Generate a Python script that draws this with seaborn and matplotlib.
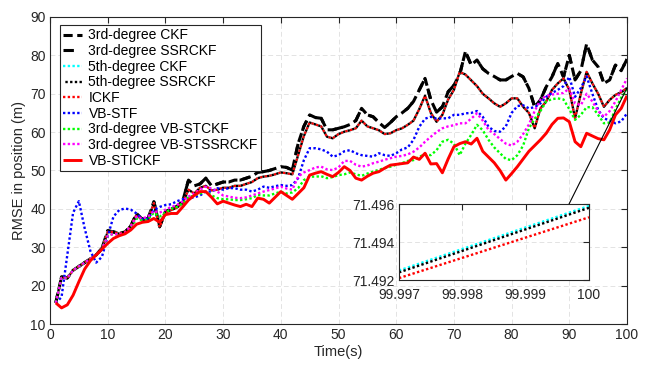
import numpy as np
import pandas as pd
import matplotlib
matplotlib.use("Agg")
import matplotlib.pyplot as plt
import seaborn as sns

# ---------------- data ----------------
time_s = np.arange(1, 101)

ckf3 = [15.5, 22.3, 22.0, 24.0, 25.0, 26.0, 27.0, 28.0, 29.7, 34.3,
        34.0, 33.6, 34.0, 35.5, 38.8, 37.3, 37.5, 41.9, 35.4, 39.3,
        40.0, 40.6, 42.0, 47.5, 46.0, 46.5, 48.0, 46.0, 46.5, 47.0,
        47.0, 47.5, 47.5, 48.0, 48.5, 49.5, 49.7, 50.0, 50.5, 51.0,
        50.8, 50.1, 57.0, 61.5, 64.5, 63.8, 63.6, 60.6, 60.6, 61.0,
        61.4, 62.0, 63.0, 66.2, 64.5, 64.0, 62.5, 61.2, 62.5, 64.0,
        65.0, 66.2, 68.0, 71.0, 74.0, 68.4, 65.2, 66.6, 70.5, 72.2,
        75.0, 81.0, 77.5, 78.8, 76.5, 75.3, 74.5, 73.6, 73.6, 74.5,
        75.3, 74.4, 71.4, 66.6, 68.4, 71.8, 74.4, 77.9, 74.4, 80.0,
        73.6, 76.0, 83.0, 78.8, 77.0, 72.7, 73.6, 77.5, 76.0, 79.0]

ssrckf3 = [15.5, 22.3, 22.0, 24.0, 25.0, 26.0, 27.0, 28.0, 29.7, 34.3,
           34.0, 33.6, 34.0, 35.5, 38.8, 37.3, 37.5, 41.9, 35.4, 39.3,
           40.0, 40.6, 42.0, 47.5, 46.0, 46.5, 48.0, 46.0, 46.5, 47.0,
           47.0, 47.5, 47.5, 48.0, 48.5, 49.5, 49.7, 50.0, 50.5, 51.0,
           50.8, 50.1, 57.0, 61.5, 64.5, 63.8, 63.6, 60.6, 60.6, 61.0,
           61.4, 62.0, 63.0, 66.2, 64.5, 64.0, 62.5, 61.2, 62.5, 64.0,
           65.0, 66.2, 68.0, 71.0, 74.0, 68.4, 65.2, 66.6, 70.5, 72.2,
           75.0, 81.0, 77.5, 78.8, 76.5, 75.3, 74.5, 73.6, 73.6, 74.5,
           75.3, 74.4, 71.4, 66.6, 68.4, 71.8, 74.4, 77.9, 74.4, 80.0,
           73.6, 76.0, 83.0, 78.8, 77.0, 72.7, 73.6, 77.5, 76.0, 79.0]

ckf5 = [15.5, 22.3, 22.0, 24.0, 25.0, 26.0, 27.0, 28.0, 29.5, 34.0,
        34.0, 33.5, 34.0, 35.5, 38.5, 37.0, 37.3, 41.5, 35.2, 39.0,
        39.7, 40.3, 41.5, 45.0, 44.0, 45.5, 46.0, 44.8, 45.0, 45.5,
        45.5, 46.0, 46.0, 46.5, 47.0, 48.0, 48.4, 48.6, 49.0, 49.5,
        49.3, 49.0, 54.0, 59.0, 62.5, 62.0, 61.5, 58.8, 58.4, 59.5,
        60.1, 60.5, 61.0, 63.0, 61.5, 61.0, 60.5, 59.5, 59.7, 60.5,
        61.0, 61.9, 63.0, 66.0, 69.5, 65.0, 62.7, 64.5, 68.5, 71.0,
        75.7, 75.0, 73.5, 72.0, 70.0, 68.8, 67.5, 66.6, 67.5, 68.8,
        68.8, 66.6, 65.0, 61.0, 66.2, 68.0, 71.0, 72.7, 74.0, 71.0,
        63.6, 70.0, 75.7, 72.7, 70.0, 66.6, 68.4, 69.7, 70.4, 71.5]

ssrckf5 = [15.5, 22.3, 22.0, 24.0, 25.0, 26.0, 27.0, 28.0, 29.5, 34.0,
           34.0, 33.5, 34.0, 35.5, 38.5, 37.0, 37.3, 41.5, 35.2, 39.0,
           39.7, 40.3, 41.5, 45.0, 44.0, 45.5, 46.0, 44.8, 45.0, 45.5,
           45.5, 46.0, 46.0, 46.5, 47.0, 48.0, 48.4, 48.6, 49.0, 49.5,
           49.3, 49.0, 54.0, 59.0, 62.5, 62.0, 61.5, 58.8, 58.4, 59.5,
           60.1, 60.5, 61.0, 63.0, 61.5, 61.0, 60.5, 59.5, 59.7, 60.5,
           61.0, 61.9, 63.0, 66.0, 69.5, 65.0, 62.7, 64.5, 68.5, 71.0,
           75.7, 75.0, 73.5, 72.0, 70.0, 68.8, 67.5, 66.6, 67.5, 68.8,
           68.8, 66.6, 65.0, 61.0, 66.2, 68.0, 71.0, 72.7, 74.0, 71.0,
           63.6, 70.0, 75.7, 72.7, 70.0, 66.6, 68.4, 69.7, 70.4, 71.5]

ickf = [15.5, 22.3, 22.0, 24.0, 25.0, 26.0, 27.0, 28.0, 29.5, 34.0,
        34.0, 33.5, 34.0, 35.5, 38.5, 37.0, 37.3, 41.5, 35.2, 39.0,
        39.7, 40.3, 41.5, 45.0, 44.0, 45.5, 46.0, 44.8, 45.0, 45.5,
        45.5, 46.0, 46.0, 46.5, 47.0, 48.0, 48.4, 48.6, 49.0, 49.5,
        49.3, 49.0, 54.0, 59.0, 62.5, 62.0, 61.5, 58.8, 58.4, 59.5,
        60.1, 60.5, 61.0, 63.0, 61.5, 61.0, 60.5, 59.5, 59.7, 60.5,
        61.0, 61.9, 63.0, 66.0, 69.5, 65.0, 62.7, 64.5, 68.5, 71.0,
        75.7, 75.0, 73.5, 72.0, 70.0, 68.8, 67.5, 66.6, 67.5, 68.8,
        68.8, 66.6, 65.0, 61.0, 66.2, 68.0, 71.0, 72.7, 74.0, 71.0,
        63.6, 70.0, 75.7, 72.7, 70.0, 66.6, 68.4, 69.7, 70.4, 71.5]

vbstf = [15.5, 17.0, 28.0, 39.0, 42.0, 35.0, 29.0, 26.0, 27.5, 32.8,
         38.0, 39.7, 40.1, 39.8, 38.8, 37.3, 37.5, 39.7, 40.5, 41.0,
         41.2, 42.0, 42.5, 42.8, 43.0, 43.5, 44.5, 44.5, 45.4, 45.0,
         45.4, 45.4, 45.0, 45.0, 44.5, 45.0, 45.8, 45.5, 45.9, 46.2,
         46.0, 46.2, 48.0, 52.7, 55.8, 55.8, 55.5, 54.9, 53.6, 54.0,
         55.0, 55.3, 54.5, 54.0, 53.8, 53.6, 54.5, 54.0, 53.8, 54.5,
         55.5, 56.0, 58.0, 61.4, 63.5, 64.0, 63.5, 63.6, 63.6, 64.5,
         64.5, 64.9, 65.0, 65.5, 64.0, 61.4, 60.3, 60.1, 61.5, 65.0,
         66.8, 67.0, 66.2, 66.5, 67.5, 69.2, 70.2, 71.0, 72.0, 74.4,
         69.2, 71.5, 74.5, 70.0, 65.8, 63.6, 63.0, 62.3, 62.8, 64.9]

vbstckf3 = [15.5, 22.0, 22.0, 24.0, 25.0, 26.0, 27.0, 28.0, 29.5, 33.0,
            33.5, 33.3, 33.5, 35.0, 37.5, 37.0, 37.3, 39.0, 38.0, 39.0,
            40.0, 40.5, 41.5, 43.0, 43.5, 44.0, 44.5, 43.5, 42.8, 42.5,
            42.5, 42.3, 42.3, 42.5, 42.8, 43.6, 43.5, 43.5, 44.0, 44.5,
            44.0, 44.3, 45.4, 47.5, 48.4, 48.4, 48.5, 48.0, 48.3, 48.8,
            49.0, 49.5, 49.0, 48.6, 49.2, 49.7, 50.2, 50.6, 51.0, 51.5,
            51.9, 52.5, 52.7, 53.6, 54.2, 54.0, 55.3, 57.5, 58.0, 57.0,
            54.0, 57.0, 59.3, 61.9, 60.5, 58.0, 56.0, 54.5, 53.0, 52.7,
            54.0, 56.5, 61.0, 63.5, 65.5, 68.0, 68.6, 68.8, 68.5, 66.0,
            63.2, 64.5, 66.5, 66.5, 64.5, 62.3, 62.5, 66.0, 69.0, 71.0]

vbstssrckf3 = [15.5, 22.0, 22.0, 24.0, 25.0, 26.0, 27.0, 28.0, 29.5, 33.0,
               33.5, 33.3, 33.8, 35.5, 38.0, 37.5, 38.0, 39.5, 39.0, 39.8,
               40.5, 41.0, 42.0, 43.2, 44.0, 45.0, 45.8, 45.3, 44.5, 43.5,
               43.2, 42.9, 42.8, 43.0, 43.5, 44.0, 44.5, 44.9, 45.3, 45.8,
               45.3, 45.0, 48.4, 49.5, 50.1, 50.8, 51.0, 50.3, 50.1, 50.8,
               52.5, 52.5, 51.5, 51.0, 51.3, 51.9, 52.3, 52.8, 53.2, 53.6,
               53.8, 54.2, 54.9, 56.0, 57.5, 58.8, 60.0, 61.0, 61.5, 61.8,
               62.3, 62.3, 63.5, 64.9, 63.0, 60.6, 59.5, 58.2, 57.0, 56.5,
               57.5, 59.5, 62.0, 65.5, 68.4, 69.5, 69.8, 70.0, 70.2, 71.4,
               67.5, 67.0, 70.0, 68.0, 65.5, 64.0, 65.5, 68.0, 71.0, 74.0]

vbstickf = [15.5, 14.2, 15.0, 17.5, 21.0, 24.3, 26.5, 28.0, 29.5, 31.0,
            32.3, 33.0, 33.5, 34.5, 36.0, 36.5, 36.7, 37.5, 36.5, 38.5,
            38.8, 38.8, 40.5, 42.3, 43.5, 44.5, 44.5, 43.0, 41.3, 42.0,
            41.5, 41.0, 40.6, 41.2, 40.6, 42.8, 42.5, 41.5, 43.0, 44.5,
            43.5, 42.5, 44.0, 45.5, 48.8, 49.3, 49.7, 49.0, 48.4, 49.5,
            51.0, 50.0, 48.0, 47.5, 48.5, 49.3, 49.7, 50.6, 51.4, 51.6,
            51.8, 52.0, 53.5, 52.9, 54.5, 51.7, 51.8, 49.4, 53.0, 56.2,
            57.0, 57.5, 56.9, 58.4, 55.0, 53.5, 52.0, 50.0, 47.5, 49.2,
            51.0, 53.0, 55.0, 56.5, 58.0, 59.7, 62.0, 63.6, 63.7, 62.7,
            57.5, 56.2, 59.7, 59.0, 58.3, 58.0, 60.6, 64.5, 66.2, 69.5]

labels = ["3rd-degree CKF", "3rd-degree SSRCKF", "5th-degree CKF",
          "5th-degree SSRCKF", "ICKF", "VB-STF", "3rd-degree VB-STCKF",
          "3rd-degree VB-STSSRCKF", "VB-STICKF"]

# zoomed inset data (last instants)
inset_t = [99.997, 100.0]
inset_ckf5 = [71.4925, 71.4959]
inset_ssrckf5 = [71.4924, 71.4958]
inset_ickf = [71.4921, 71.4953]
inset_xticks = [99.997, 99.998, 99.999, 100.0]
inset_xticklabels = ["99.997", "99.998", "99.999", "100"]
inset_yticks = [71.492, 71.494, 71.496]
inset_yticklabels = ["71.492", "71.494", "71.496"]

series = [ckf3, ssrckf3, ckf5, ssrckf5, ickf, vbstf, vbstckf3, vbstssrckf3, vbstickf]

# ---------------- style ----------------
sns.set_theme(style="white")
plt.rcParams["font.family"] = ["Liberation Sans", "DejaVu Sans"]
plt.rcParams["lines.solid_capstyle"] = "butt"
plt.rcParams["lines.dash_capstyle"] = "butt"
DARK = "#262626"

styles = [
    dict(color="black", lw=2.2, ls=(0, (3.0, 1.5))),
    dict(color="black", lw=2.2, ls=(0, (3.4, 4.5))),
    dict(color="cyan", lw=1.7, ls=(0, (1, 1))),
    dict(color="black", lw=1.7, ls=(1, (1, 1))),
    dict(color="red", lw=1.7, ls=(0, (1, 1))),
    dict(color="blue", lw=1.7, ls=(0, (1, 1))),
    dict(color="#00ff00", lw=1.7, ls=(0, (1, 1))),
    dict(color="magenta", lw=1.7, ls=(0, (1, 1))),
    dict(color="red", lw=2.1, ls="-"),
]

W, H = 652, 365
fig = plt.figure(figsize=(W / 100, H / 100), dpi=100)
ax = fig.add_axes([50 / W, 1 - 324 / H, 577 / W, 307 / H])

for vals, lab, st in zip(series, labels, styles):
    df = pd.DataFrame({"t": time_s, "v": vals})
    sns.lineplot(data=df, x="t", y="v", ax=ax, color=st["color"], lw=st["lw"],
                 linestyle=st["ls"], label=lab, estimator=None, sort=False)

ax.set_xlim(0, 100)
ax.set_ylim(10, 90)
ax.set_xticks(np.arange(0, 101, 10))
ax.set_yticks(np.arange(10, 91, 10))
ax.grid(True, linestyle=(0, (5, 3)), color="#e3e3e3", lw=0.7)
ax.tick_params(direction="in", top=True, right=True, length=4, width=0.8,
               labelsize=10, pad=3, colors=DARK)
for s in ax.spines.values():
    s.set_linewidth(0.8)
    s.set_color(DARK)
ax.set_xlabel("Time(s)", fontsize=10.5, color=DARK, labelpad=2)
ax.set_ylabel("RMSE in position (m)", fontsize=10.5, color=DARK, labelpad=3)

leg = ax.legend(loc="upper left", bbox_to_anchor=(10 / 577, 1 - 8 / 307),
                borderaxespad=0, fontsize=10, frameon=True, fancybox=False,
                edgecolor=DARK, framealpha=1, labelspacing=0.12,
                handlelength=1.35, handletextpad=0.45, borderpad=0.25)
leg.get_frame().set_linewidth(0.8)
for txt in leg.get_texts():
    txt.set_color("black")

# connector line from inset to final point
ax.annotate("", xy=(100, 71.5), xytext=(89.8, 40.8),
            arrowprops=dict(arrowstyle="-", lw=0.8, color="black",
                            shrinkA=0, shrinkB=0))

# inset
axi = fig.add_axes([399 / W, 85 / H, 190 / W, 76 / H])
for vals, col, ls in [(inset_ckf5, "cyan", (0, (1, 1))),
                      (inset_ssrckf5, "black", (0, (1, 1))),
                      (inset_ickf, "red", (0, (1, 1)))]:
    sns.lineplot(x=inset_t, y=vals, ax=axi, color=col, lw=1.7, linestyle=ls,
                 estimator=None, sort=False)
axi.set_xlim(99.997, 100.0)
axi.set_ylim(71.492, 71.496)
axi.set_xticks(inset_xticks)
axi.set_xticklabels(inset_xticklabels)
axi.set_yticks(inset_yticks)
axi.set_yticklabels(inset_yticklabels)
axi.set_xlabel("")
axi.set_ylabel("")
axi.grid(True, linestyle=(0, (5, 3)), color="#e3e3e3", lw=0.7)
axi.tick_params(direction="in", top=True, right=True, length=4, width=0.8,
                labelsize=10, colors=DARK)
axi.tick_params(axis="x", pad=6)
axi.tick_params(axis="y", pad=3)
for s in axi.spines.values():
    s.set_linewidth(0.8)
    s.set_color(DARK)
axi.set_facecolor("white")

fig.savefig("out.png", dpi=100)
